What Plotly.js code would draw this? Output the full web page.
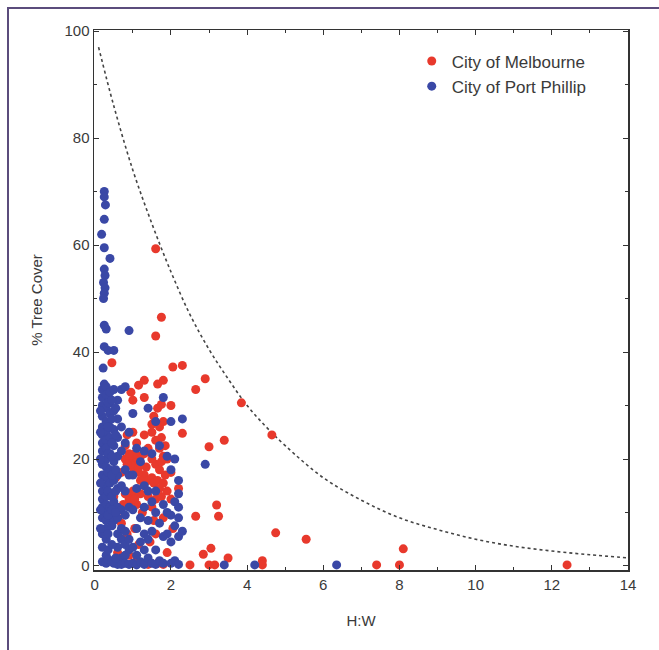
<!DOCTYPE html>
<html>
<head>
<meta charset="utf-8">
<script src="https://cdn.plot.ly/plotly-3.0.1.min.js"></script>
<style>
html,body{margin:0;padding:0;background:#fff;}
#wrap{position:relative;width:659px;height:650px;overflow:hidden;}
#chart{position:absolute;left:0;top:0;width:659px;height:650px;}
#frame{position:absolute;left:7px;top:7px;width:700px;height:700px;border-top:2.5px solid #5b4c7c;border-left:2.5px solid #5b4c7c;pointer-events:none;}
</style>
</head>
<body>
<div id="wrap"><div id="chart"></div><div id="frame"></div></div>
<script>
// City of Melbourne (red)
const melbX = [1.6,1.75,1.6,0.45,2.05,2.3,2.9,2.65,1.8,1.65,1.3,1.15,0.95,1.0,1.3,3.85,2.0,1.65,1.75,4.65,2.3,3.4,3.0,2.2,3.2,3.25,2.65,4.75,5.55,8.1,2.85,3.05,3.5,4.4,2.5,3.0,3.15,4.4,7.4,8.0,12.4,1.8,1.65,2.05,
  0.8,0.9,1.0,1.1,1.0,1.2,0.95,1.05,1.0,0.95,1.1,1.0,0.9,1.3,1.4,1.5,1.55,1.6,1.7,1.8,1.7,1.85,1.6,1.5,1.3,1.0,0.85,1.7,1.8,1.5,1.4,1.2,0.8,1.5,1.6,1.4,1.2,1.05,0.6,0.7,1.6,1.8,1.45,0.9,1.1,0.6,0.75,0.55,1.9,2.0,1.7,1.75,1.5,1.3,1.15,1.35,1.75,1.85,1.65,1.9,0.7,0.8,1.25,1.55,0.85,1.15,1.4,1.0,0.7,1.9,2.0,0.5,1.1,1.55,1.75,1.8,
  0.85,1.15,0.9,1.05,1.2,0.95];
const melbY = [59.3,46.5,43,38,37.2,37.5,35,33,34.7,34,34.7,33.8,32.5,31,31.5,30.5,30,29.5,30.2,24.5,24.8,23.5,22.3,14.5,11.4,9.3,9.3,6.2,5,3.2,2.2,3.3,1.5,1,0.2,0.2,0.2,0.2,0.2,0.2,0.2,0.3,0.5,7,
  20,20.5,20,19.5,18.5,20.5,19,21,13,12,11.5,14,12.5,17,16,16.5,15.5,19,18,20.5,22,22.5,23.5,25,24.5,25,24.5,26,27,26.5,22,16,13.5,11,12.5,13,13.5,7,9,8,6,9,4.5,2,1,2.5,11.5,16.5,20,17.5,14.5,13,20,21,17.5,18.5,19.5,17,16,14,17.5,22.5,10,8.5,6,4,0.3,0.5,0.8,2.5,12.5,13,23,28,24,15.5,
  19,18.5,21,12.5,19,11];

// City of Port Phillip (blue)
const portX = [0.25,0.25,0.28,0.25,0.18,0.25,0.4,0.25,0.27,0.23,0.27,0.25,0.23,0.25,0.3,0.25,0.35,0.5,0.22,0.25,0.9,
  0.2,0.2,0.2,0.2,0.2,0.2,0.2,0.2,0.2,0.2,0.2,0.2,0.2,0.2,0.2,0.2,0.2,
  0.3,0.3,0.3,0.3,0.3,0.3,0.3,0.3,0.3,0.3,0.3,0.3,0.3,0.3,0.3,0.3,0.3,0.3,0.3,
  0.4,0.4,0.4,0.4,0.4,0.4,0.4,0.4,0.4,0.4,0.4,0.4,
  0.5,0.5,0.5,0.5,0.5,0.5,0.5,0.5,0.5,0.5,
  0.6,0.6,0.6,0.6,0.6,0.6,0.6,0.6,0.6,0.6,0.6,
  0.7,0.7,0.7,0.7,0.7,0.7,0.7,0.7,0.7,
  0.8,0.8,0.8,0.8,0.8,0.8,0.8,0.8,0.8,
  0.9,0.9,0.9,0.9,0.9,0.9,
  1.0,1.0,1.0,1.0,1.0,
  1.1,1.1,1.1,1.1,1.1,
  1.2,1.2,1.2,1.2,
  1.3,1.3,1.3,1.3,1.3,1.3,
  1.4,1.4,1.4,1.4,1.4,
  1.5,1.5,1.5,1.5,
  1.6,1.6,1.6,1.6,1.6,
  1.7,1.7,1.7,
  1.8,1.8,1.8,1.8,
  1.9,1.9,1.9,
  2.0,2.0,2.0,2.0,2.0,
  2.1,2.1,2.1,2.1,
  2.2,2.2,2.2,2.2,2.2,2.2,
  2.3,2.3,
  2.9,3.4,4.2,6.35,
  0.15,0.15,0.15,0.15,0.15,0.15,
  0.35,0.35,0.35,0.35,0.35,0.35,0.35,0.35,0.35,
  0.45,0.45,0.45,0.45,0.45,0.45,0.45,0.45,0.45,0.45,
  0.55,0.55,0.55,0.55,0.55,0.55];
const portY = [70,69,67.5,64.8,62,59.5,57.5,55.5,54.3,53,52,51,50,45,44.3,41,40.3,40.3,37,34,44,
  33,31.5,30,28,26,24.5,23,21.5,19,17,14,12.5,11,9,6,3.5,0.8,
  33.5,32,29.5,27,25,23.5,22,20,18.5,16.5,15,13,11.5,10,8.5,7,5,2,0.5,
  32.5,30.5,28.5,26,24,21,18,15.5,13.5,11,9.5,1,
  33,29,25.5,22.5,19.5,16,12,10,8.5,0.5,
  31,27.5,24,20.5,17,14.5,11,9,6,3.5,0.3,
  33,26,21.5,15,10.5,7,5,1.5,0.3,
  33.5,23,18,14,9.5,6.5,4,2,0.5,
  25,17,11,5,3,0.3,
  28.5,17,10.5,3.5,0.5,
  22,14.5,7,2,0.2,
  19.5,9,4.5,0.8,
  21.5,15,11,6,3,0.3,
  29.5,14,8.5,5,1.5,
  21,12,6.5,0.5,
  27,14,10,3,0.3,
  22.5,8,1,
  31.5,11.5,5.5,0.5,
  20.5,10,6,
  27,18,9.5,4.5,0.5,
  20,12,7.5,1,
  16,13.5,11,9,5.5,0.3,
  27.5,6.5,
  19,0.2,0.2,0.2,
  29,25,20,15.5,10.5,7,
  30.5,26,21,17.5,14,9.5,6,3,1.2,
  31,27.5,23,20.5,17,13,10.5,7.5,4,0.8,
  29.5,24.5,18,14,10,1.5];

// dashed envelope curve
const curveX = [0.1,0.5,1,1.5,2,2.5,3,3.5,4,4.5,5,6,7,8,9,10,11,12,13,14];
const curveY = [97,86,74,64,55,47,40.5,35,30,26,22.5,16.5,12.3,9,6.8,5,3.7,2.8,2.1,1.5];

const xTicks = [0,2,4,6,8,10,12,14];
const yTicks = [0,20,40,60,80,100];

const FONT = 'Arial, Liberation Sans, sans-serif';

const traces = [
  {x: curveX, y: curveY, mode: 'lines', line: {shape: 'spline', color: '#444', width: 1.6, dash: 'dot'}, showlegend: false, hoverinfo: 'skip'},
  {x: melbX, y: melbY, mode: 'markers', name: 'City of Melbourne', marker: {color: '#e8392c', size: 9}},
  {x: portX, y: portY, mode: 'markers', name: 'City of Port Phillip', marker: {color: '#3a48a6', size: 9}}
];

const axisCommon = {
  showline: true, linecolor: '#333', linewidth: 1.5, mirror: 'ticks',
  ticks: 'inside', ticklen: 5, tickcolor: '#333', tickwidth: 1,
  showgrid: false, zeroline: false,
  tickfont: {family: FONT, size: 15, color: '#3a3a3a'}
};

const layout = {
  width: 659, height: 650,
  margin: {l: 94, r: 31, t: 30, b: 80},
  paper_bgcolor: '#fff', plot_bgcolor: '#fff',
  xaxis: Object.assign({}, axisCommon, {
    range: [-0.02, 14], tickvals: xTicks, ticktext: xTicks.map(String),
    minor: {dtick: 1, ticks: 'inside', ticklen: 3, tickcolor: '#333'},
    title: {text: 'H:W', font: {family: FONT, size: 15, color: '#3a3a3a'}, standoff: 24}
  }),
  yaxis: Object.assign({}, axisCommon, {
    range: [-0.75, 100.2], tickvals: yTicks, ticktext: yTicks.map(String),
    minor: {dtick: 10, ticks: 'inside', ticklen: 3, tickcolor: '#333'},
    title: {text: '% Tree Cover', font: {family: FONT, size: 15, color: '#3a3a3a'}, standoff: 18}
  }),
  legend: {
    x: 0.595, y: 0.975, xanchor: 'left', yanchor: 'top',
    bgcolor: 'rgba(0,0,0,0)', borderwidth: 0,
    font: {family: FONT, size: 17, color: '#3a3a3a'},
    tracegroupgap: 0, itemwidth: 30
  }
};

Plotly.newPlot('chart', traces, layout, {displayModeBar: false, staticPlot: true});
</script>
</body>
</html>
